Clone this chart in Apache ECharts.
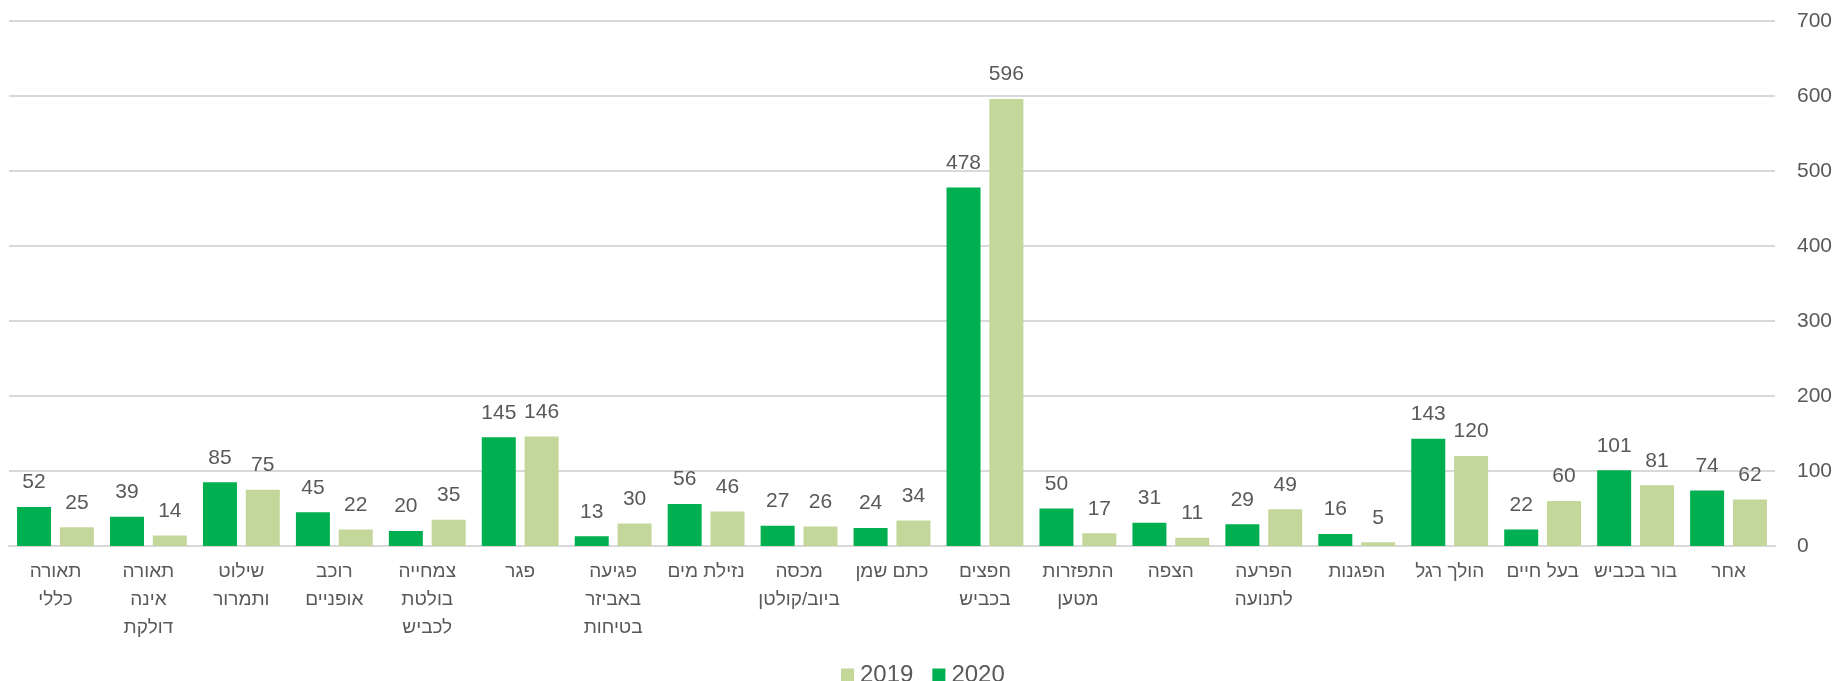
<!DOCTYPE html>
<html lang="he">
<head>
<meta charset="utf-8">
<script src="https://cdn.jsdelivr.net/npm/echarts@6/dist/echarts.min.js"></script>
<style>
  html, body { margin: 0; padding: 0; background: #ffffff; }
  #chart { width: 1837px; height: 681px; }
</style>
</head>
<body>
<div id="chart"></div>
<script>
// Road incident reports by type, 2020 vs 2019
const categories = [
  'תאורה\nכללי',
  'תאורה\nאינה\nדולקת',
  'שילוט\nותמרור',
  'רוכב\nאופניים',
  'צמחייה\nבולטת\nלכביש',
  'פגר',
  'פגיעה\nבאביזר\nבטיחות',
  'נזילת מים',
  'מכסה\nביוב/קולטן',
  'כתם שמן',
  'חפצים\nבכביש',
  'התפזרות\nמטען',
  'הצפה',
  'הפרעה\nלתנועה',
  'הפגנות',
  'הולך רגל',
  'בעל חיים',
  'בור בכביש',
  'אחר'
];
const values2020 = [52, 39, 85, 45, 20, 145, 13, 56, 27, 24, 478, 50, 31, 29, 16, 143, 22, 101, 74];
const values2019 = [25, 14, 75, 22, 35, 146, 30, 46, 26, 34, 596, 17, 11, 49, 5, 120, 60, 81, 62];
const yTicks = { min: 0, max: 700, interval: 100 };

const FONT = '"Liberation Sans", "DejaVu Sans", sans-serif';
const TEXT = '#595959';
const GRID = '#d9d9d9';

const chart = echarts.init(document.getElementById('chart'), null, { renderer: 'canvas' });

const valueLabel = {
  show: true,
  position: 'top',
  distance: 14,
  color: TEXT,
  fontFamily: FONT,
  fontSize: 21
};

chart.setOption({
  animation: false,
  backgroundColor: '#ffffff',
  grid: { left: 9, right: 62, top: 21, bottom: 135, containLabel: false },
  legend: {
    data: ['2019', '2020'],
    left: 836,
    top: 658,
    itemWidth: 13,
    itemHeight: 13,
    itemGap: 19,
    icon: 'rect',
    textStyle: { color: TEXT, fontFamily: FONT, fontSize: 24, padding: [0, 0, 0, 1] }
  },
  xAxis: {
    type: 'category',
    data: categories,
    axisLine: { show: true, lineStyle: { color: GRID, width: 2 } },
    axisTick: { show: false },
    axisLabel: {
      interval: 0,
      margin: 12,
      color: TEXT,
      fontFamily: FONT,
      fontSize: 19,
      lineHeight: 28
    }
  },
  yAxis: {
    type: 'value',
    position: 'right',
    min: yTicks.min,
    max: yTicks.max,
    interval: yTicks.interval,
    axisLine: { show: false },
    axisTick: { show: false },
    axisLabel: { margin: 22, color: TEXT, fontFamily: FONT, fontSize: 21 },
    splitLine: { show: true, lineStyle: { color: GRID, width: 2 } }
  },
  series: [
    {
      name: '2020',
      type: 'bar',
      data: values2020,
      barWidth: 34,
      barGap: '26%',
      itemStyle: { color: '#00b050' },
      label: valueLabel
    },
    {
      name: '2019',
      type: 'bar',
      data: values2019,
      barWidth: 34,
      barGap: '26%',
      itemStyle: { color: '#c4d79b' },
      label: valueLabel
    }
  ]
});
</script>
</body>
</html>
